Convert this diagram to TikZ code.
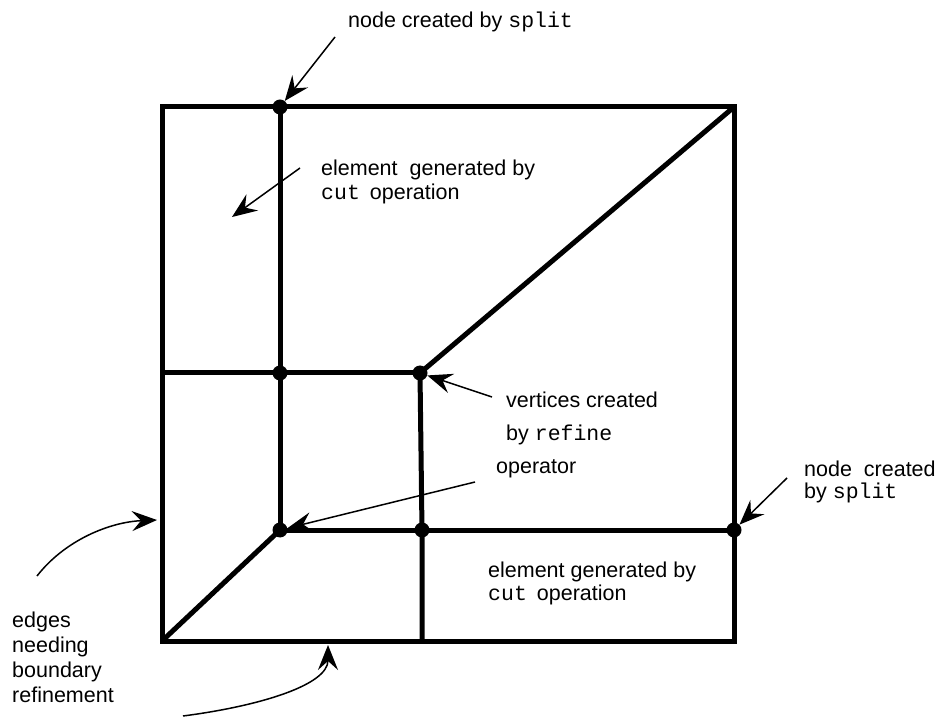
\documentclass[tikz,border=0pt]{standalone}
\usepackage{fontspec}
\setmainfont{Liberation Sans}
\setmonofont{Liberation Mono}
\usetikzlibrary{arrows.meta}
\begin{document}
\begin{tikzpicture}[x=1pt,y=-1pt,
  edge/.style={line width=5pt,line join=miter},
  dotnode/.style={circle,fill=black,inner sep=0pt,minimum size=15pt},
  lbl/.style={anchor=base west,inner sep=0pt,font=\fontsize{21.5}{25}\selectfont},
  pointer/.style={line width=1.5pt,-{Stealth[length=25pt,width=20pt,inset=9pt]}}]
\useasboundingbox (0,0) rectangle (938,719);
% corners
\coordinate (TL) at (162,107);
\coordinate (TR) at (734,107);
\coordinate (BR) at (734,641);
\coordinate (BL) at (162,641);
\coordinate (HL) at (162,373);
\coordinate (VB) at (422,641);
% mesh
\draw[edge] (TL) -- (TR) -- (BR) -- (BL) -- cycle;
\node[dotnode] (d1) at (280,107) {};
\node[dotnode] (d2) at (280,373) {};
\node[dotnode] (d3) at (420,373) {};
\node[dotnode] (d4) at (280,530) {};
\node[dotnode] (d5) at (422,530) {};
\node[dotnode] (d6) at (734,530) {};
\draw[edge] (d1.center) -- (d2.center) -- (d4.center);
\draw[edge] (HL) -- (d2.center) -- (d3.center);
\draw[edge] (d3.center) -- (TR);
\draw[edge] (d3.center) -- (d5.center) -- (VB);
\draw[edge] (d4.center) -- (d5.center) -- (d6.center);
\draw[edge] (BL) -- (d4.center);
% labels
\node[lbl] (t1) at (348,28) {node created by \texttt{split}};
\node[lbl] (t2a) at (321,176) {element\ \ generated by};
\node[lbl] (t2b) at (321,200) {\texttt{cut}\hspace{10pt}operation};
\node[lbl] (t3a) at (506,408) {vertices created};
\node[lbl] (t3b) at (506,441) {by \texttt{refine}};
\node[lbl] (t3c) at (496,474) {operator};
\node[lbl] (t4a) at (804,476) {node\ \ created};
\node[lbl] (t4b) at (804,498) {by \texttt{split}};
\node[lbl] (t5a) at (488,577) {element generated by};
\node[lbl] (t5b) at (488,600) {\texttt{cut}\hspace{10pt}operation};
\node[lbl] (t6a) at (12,627) {edges};
\node[lbl] (t6b) at (12,652) {needing};
\node[lbl] (t6c) at (12,677) {boundary};
\node[lbl] (t6d) at (12,702) {refinement};
% arrow ends
\coordinate (a1s) at (335,37);
\coordinate (a2s) at (300,168);
\coordinate (a2e) at (232,217);
\coordinate (a3s) at (492,397);
\coordinate (a4s) at (475,482);
\coordinate (a5s) at (787,478);
\coordinate (a6s) at (37,576);
\coordinate (a6e) at (157,520);
\coordinate (a7s) at (183,716);
\coordinate (a7e) at (328,645);
% arrows
\draw[pointer] (a1s) -- (d1);
\draw[pointer] (a2s) -- (a2e);
\draw[pointer] (a3s) -- (d3);
\draw[pointer] (a4s) -- (d4);
\draw[pointer] (a5s) -- (d6);
\draw[pointer] (a6s) .. controls (65,540) and (110,522) .. (a6e);
\draw[pointer] (a7s) .. controls (260,706) and (328,685) .. (a7e);
\end{tikzpicture}
\end{document}
